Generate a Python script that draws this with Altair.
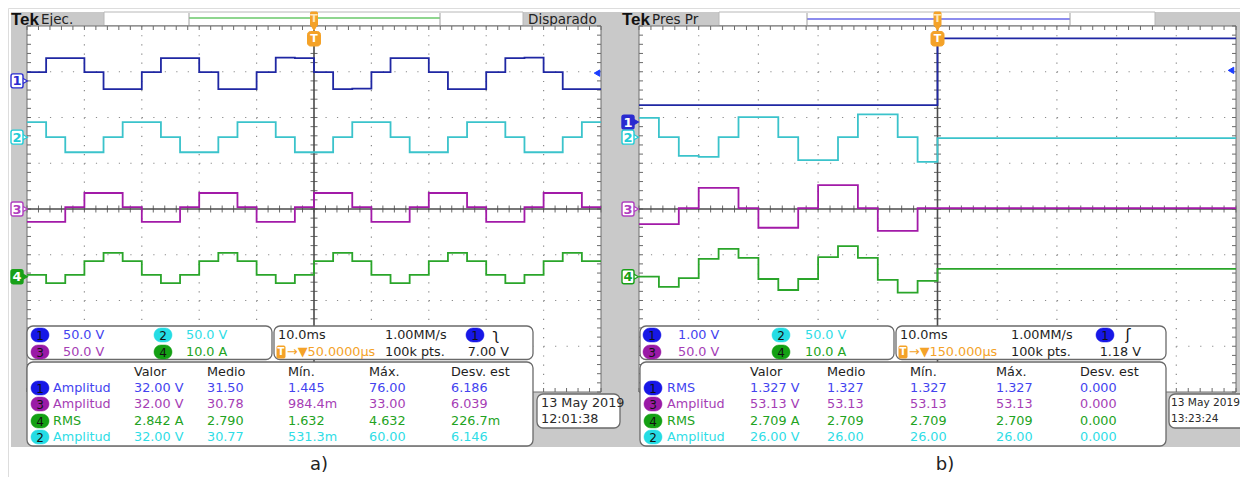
import altair as alt
import pandas as pd

# ================= values =================
# Trace step levels, in screen divisions above the graticule centre line,
# one value per 1/3 division (3.33 ms at 10 ms/div), left to right.
A_CH1 = [2.99, 3.30, 3.30, 2.99, 2.62, 2.62, 2.99, 3.30, 3.30, 2.99,
         2.62, 2.62, 2.99, 3.31, 3.30, 2.99, 2.62, 2.63, 2.99, 3.30,
         3.30, 2.99, 2.62, 2.62, 2.99, 3.30, 3.31, 2.99, 2.62, 2.62]
A_CH2 = [1.90, 1.57, 1.24, 1.24, 1.57, 1.90, 1.90, 1.57, 1.24, 1.24,
         1.57, 1.90, 1.90, 1.57, 1.24, 1.24, 1.57, 1.90, 1.90, 1.57,
         1.24, 1.24, 1.57, 1.90, 1.90, 1.57, 1.24, 1.24, 1.57, 1.90]
A_CH3 = [-0.28, -0.28, 0.04, 0.35, 0.35, 0.04, -0.28, -0.28, 0.04, 0.35,
         0.35, 0.04, -0.28, -0.28, 0.04, 0.35, 0.35, 0.04, -0.28, -0.28,
         0.04, 0.35, 0.35, 0.04, -0.28, -0.28, 0.04, 0.35, 0.35, 0.04]
A_CH4 = [-1.44, -1.62, -1.44, -1.14, -0.96, -1.14, -1.44, -1.62, -1.44, -1.14,
         -0.96, -1.14, -1.44, -1.62, -1.44, -1.14, -0.96, -1.14, -1.44, -1.62,
         -1.44, -1.14, -0.96, -1.14, -1.44, -1.62, -1.44, -1.14, -0.96, -1.14]

B_CH1 = [2.27, 2.27, 2.27, 2.27, 2.27, 2.27, 2.27, 2.27, 2.27, 2.27,
         2.27, 2.27, 2.27, 2.27, 2.27, 3.73, 3.73, 3.73, 3.73, 3.73,
         3.73, 3.73, 3.73, 3.73, 3.73, 3.73, 3.73, 3.73, 3.73, 3.73]
B_CH2 = [1.99, 1.57, 1.16, 1.14, 1.57, 2.01, 2.01, 1.57, 1.07, 1.07,
         1.57, 2.07, 2.07, 1.57, 1.03, 1.55, 1.55, 1.55, 1.55, 1.55,
         1.55, 1.55, 1.55, 1.55, 1.55, 1.55, 1.55, 1.55, 1.55, 1.55]
B_CH3 = [-0.33, -0.33, 0.02, 0.46, 0.46, 0.02, -0.41, -0.41, 0.02, 0.52,
         0.52, 0.02, -0.48, -0.48, 0.02, 0.02, 0.02, 0.02, 0.02, 0.02,
         0.02, 0.02, 0.02, 0.02, 0.02, 0.02, 0.02, 0.02, 0.02, 0.02]
B_CH4 = [-1.48, -1.70, -1.51, -1.09, -0.87, -1.07, -1.53, -1.77, -1.53, -1.05,
         -0.81, -1.07, -1.55, -1.83, -1.57, -1.31, -1.31, -1.31, -1.31, -1.31,
         -1.31, -1.31, -1.31, -1.31, -1.31, -1.31, -1.31, -1.31, -1.31, -1.31]

MS_PER_DIV = 10.0
STEPS_PER_DIV = 3

# channel ground-marker levels (divisions above centre)
A_MARK_LEVELS = {"1": 2.80, "2": 1.57, "3": 0.0, "4": -1.48}
B_MARK_LEVELS = {"1": 1.90, "2": 1.57, "3": 0.0, "4": -1.48}
A_MARK_FILLED = ["4"]
B_MARK_FILLED = ["1"]
A_TRIG_LEVEL = 2.97
B_TRIG_LEVEL = 3.03

A_MODE, B_MODE = "Ejec.", "Pres Pr"
A_STATUS = "Disparado"

A_SCALES = {"1": "50.0 V", "2": "50.0 V", "3": "50.0 V", "4": "10.0 A"}
B_SCALES = {"1": "1.00 V", "2": "50.0 V", "3": "50.0 V", "4": "10.0 A"}

A_TIMEBASE = ["10.0ms", "1.00MM/s", "100k pts.", "7.00 V"]
B_TIMEBASE = ["10.0ms", "1.00MM/s", "100k pts.", "1.18 V"]
A_TRIG_POS = "\u2192\u25bc50.0000\u00b5s"
B_TRIG_POS = "\u2192\u25bc150.000\u00b5s"
A_EDGE = "\u0285"
B_EDGE = "\u0283"

MEAS_HEADERS = ["Valor", "Medio", "Mín.", "Máx.", "Desv. est"]
MEAS_CHANNELS = ["1", "3", "4", "2"]
A_MEAS_NAMES = ["Amplitud", "Amplitud", "RMS", "Amplitud"]
A_MEAS_VALUES = [["32.00 V", "31.50", "1.445", "76.00", "6.186"],
                 ["32.00 V", "30.78", "984.4m", "33.00", "6.039"],
                 ["2.842 A", "2.790", "1.632", "4.632", "226.7m"],
                 ["32.00 V", "30.77", "531.3m", "60.00", "6.146"]]
B_MEAS_NAMES = ["RMS", "Amplitud", "RMS", "Amplitud"]
B_MEAS_VALUES = [["1.327 V", "1.327", "1.327", "1.327", "0.000"],
                 ["53.13 V", "53.13", "53.13", "53.13", "0.000"],
                 ["2.709 A", "2.709", "2.709", "2.709", "0.000"],
                 ["26.00 V", "26.00", "26.00", "26.00", "0.000"]]

A_DATE = ["13 May 2019", "12:01:38"]
B_DATE = ["13 May 2019", "13:23:24"]
CAPTIONS = ["a)", "b)"]

# ================= styles / layout =================
FONT = "DejaVu Sans"
TEK_FONT = "Liberation Sans"
ORANGE = "#f4a228"
GRAY_BG = "#c9c9c9"
C_TRACE = {"1": "#1f27a3", "2": "#3bc3cb", "3": "#a21aa8", "4": "#2aa52a"}
C_TEXT = {"1": "#4343ef", "2": "#2fdde6", "3": "#a53db5", "4": "#22a322"}
C_BADGE = {"1": "#1717e6", "2": "#25dce4", "3": "#9a1aa6", "4": "#14a014"}
C_MARK = {"1": "#2a2ad0", "2": "#22ccd6", "3": "#b040c0", "4": "#18a018"}

W, H = 1232, 469
X = alt.X("x:Q", scale=alt.Scale(domain=[8, 8 + W], nice=False, zero=False), axis=None)
Y = alt.Y("y:Q", scale=alt.Scale(domain=[8, 8 + H], nice=False, zero=False, reverse=True), axis=None)
X2 = alt.X2("x2:Q")
Y2 = alt.Y2("y2:Q")


def rects(rows, radius=0, sw=1.0):
    df = pd.DataFrame(rows, columns=["x", "x2", "y", "y2", "fill", "stroke"])
    return alt.Chart(df).mark_rect(cornerRadius=radius, strokeWidth=sw, clip=True).encode(
        x=X, x2=X2, y=Y, y2=Y2,
        fill=alt.Fill("fill:N", scale=None),
        stroke=alt.Stroke("stroke:N", scale=None))


def rules(rows, color, sw=1.0, dash=None):
    df = pd.DataFrame(rows, columns=["x", "x2", "y", "y2"])
    kw = dict(color=color, strokeWidth=sw)
    if dash:
        kw["strokeDash"] = dash
    return alt.Chart(df).mark_rule(**kw).encode(x=X, x2=X2, y=Y, y2=Y2)


def texts(rows, size=12.5, align="left", weight="normal", font=FONT):
    df = pd.DataFrame(rows, columns=["x", "y", "text", "color"])
    return alt.Chart(df).mark_text(align=align, baseline="middle", font=font, fontSize=size,
                                   fontWeight=weight, clip=True).encode(
        x=X, y=Y, text="text:N", color=alt.Color("color:N", scale=None))


def points(rows, shape, size, sw=1.0):
    df = pd.DataFrame(rows, columns=["x", "y", "fill", "stroke"])
    return alt.Chart(df).mark_point(shape=shape, size=size, filled=True, strokeWidth=sw, opacity=1).encode(
        x=X, y=Y, fill=alt.Fill("fill:N", scale=None), stroke=alt.Stroke("stroke:N", scale=None))


def trace(levels, P, color):
    gx0, gx1, gy0, gy1 = P["grat"]
    dw = (gx1 - gx0) / 10
    dh = (gy1 - gy0) / 8
    yc = (gy0 + gy1) / 2
    t0 = -5 * MS_PER_DIV
    rows = []
    for k, lv in enumerate(levels + [levels[-1]]):
        t = t0 + k * MS_PER_DIV / STEPS_PER_DIV
        rows.append({"t": t, "level": lv})
    df = pd.DataFrame(rows)
    df["x"] = gx0 + (df["t"] - t0) / MS_PER_DIV * dw
    df["y"] = yc - df["level"] * dh
    return alt.Chart(df).mark_line(interpolate="step-after", color=color, strokeWidth=1.8).encode(x=X, y=Y)


def panel(P, D):
    gx0, gx1, gy0, gy1 = P["grat"]
    dw = (gx1 - gx0) / 10
    dh = (gy1 - gy0) / 8
    xc = (gx0 + gx1) / 2
    yc = (gy0 + gy1) / 2
    L = []
    # header
    hx0, hx1 = P["hdr_box"]
    L.append(rects([(hx0, hx1, 12, 25.5, "white", "#b8b8b8")]))
    lx0, lx1 = P["hdr_line"]
    L.append(rules([(lx0, lx1, P["hdr_line_y"], P["hdr_line_y"])], P["hdr_line_color"], 2.2))
    L.append(rules([(lx0, lx0, 13, 25), (lx1, lx1, 13, 25)], "#a0a0a0", 1))
    L.append(texts([(P["tek_x"], 20, "Tek", "#111111")], size=17, weight="bold", font=TEK_FONT))
    L.append(texts([(P["tek_x"] + 30, 19.5, D["mode"], "#222222")], size=13.5))
    if D.get("status"):
        L.append(texts([(P["status_x"], 19.5, D["status"], "#222222")], size=13.5))
    # graticule
    L.append(rects([(gx0, gx1, gy0, gy1, "white", "#6e6e6e")]))
    vr = [(gx0 + i * dw, gx0 + i * dw, gy0, gy1) for i in range(1, 10) if i != 5]
    hr = [(gx0, gx1, gy0 + j * dh, gy0 + j * dh) for j in range(1, 8) if j != 4]
    L.append(rules(vr, "#8a8a8a", 1.2, [1.2, dh / 5 - 1.2]))
    L.append(rules(hr, "#8a8a8a", 1.2, [1.2, dw / 5 - 1.2]))
    ticks = []
    for i in range(51):
        x = gx0 + i * dw / 5
        ticks += [(x, x, yc - 3.5, yc + 3.5), (x, x, gy0, gy0 + 4), (x, x, gy1 - 4, gy1)]
    for j in range(41):
        y = gy0 + j * dh / 5
        ticks += [(xc - 3.5, xc + 3.5, y, y), (gx0, gx0 + 4, y, y), (gx1 - 4, gx1, y, y)]
    L.append(rules(ticks, "#6a6a6a", 1))
    L.append(rules([(gx0, gx1, yc, yc), (xc, xc, gy0, gy1)], "#4a4a4a", 1.6))
    # traces
    for ch in ["2", "1", "4", "3"]:
        L.append(trace(D["traces"][ch], P, C_TRACE[ch]))
    # channel markers on the left
    mx = P["marker_x"]
    tri, box, lab_w = [], [], []
    for ch, lv in D["marks"].items():
        y = yc - lv * dh
        filled = ch in D["marks_filled"]
        fill = C_MARK[ch] if filled else "white"
        tri.append((mx + 13.5, y, fill, C_MARK[ch]))
        box.append((mx, mx + 12, y - 7, y + 7, fill, C_MARK[ch]))
        lab_w.append((mx + 6, y + 0.5, ch, "white" if filled else C_MARK[ch]))
    L.append(points(tri, "triangle-right", 45, 1.2))
    L.append(rects(box, radius=2, sw=1.4))
    L.append(texts(lab_w, size=13, align="center", weight="bold"))
    # trigger level arrow (right)
    ax, _ = P["arrow"]
    L.append(points([(ax, yc - D["trig_level"] * dh, "#1a3cff", "#1a3cff")], "triangle-left", 40))
    # trigger position marker
    L.append(rects([(xc - 3.5, xc + 3.5, 12, 26, ORANGE, ORANGE)], radius=1))
    L.append(points([(xc, 28, ORANGE, ORANGE)], "triangle-down", 30))
    L.append(rects([(xc - 6.5, xc + 6.5, 31.5, 46, ORANGE, ORANGE)], radius=3))
    L.append(texts([(xc, 39, "T", "white"), (xc, 19, "T", "#fde6b8")], size=11, align="center", weight="bold"))
    # info boxes
    b1, b2, bm, bd = P["box1"], P["box2"], P["meas"], P["date"]
    L.append(rects([(b1[0], b1[1], 326, 359.5, "white", "#6a6a6a"),
                    (b2[0], b2[1], 326, 359.5, "white", "#6a6a6a"),
                    (bm[0], bm[1], 362, 446, "white", "#6a6a6a"),
                    (bd[0], bd[1], 394, 428, "white", "#6a6a6a")], radius=6, sw=1.3))
    # channel scale box
    badges, btxt, stxt = [], [], []
    for ch, (bx, tx, y) in zip(["1", "2", "3", "4"],
                               [(P["s_badge_x"][0], P["s_text_x"][0], 335),
                                (P["s_badge_x"][1], P["s_text_x"][1], 335),
                                (P["s_badge_x"][0], P["s_text_x"][0], 352),
                                (P["s_badge_x"][1], P["s_text_x"][1], 352)]):
        badges.append((bx - 9, bx + 9, y - 7, y + 7, C_BADGE[ch], C_BADGE[ch]))
        btxt.append((bx, y + 0.5, ch, "#111111"))
        stxt.append((tx, y, D["scales"][ch], C_TEXT[ch]))
    # timebase box
    tb = P["tb_x"]
    badges.append((tb[2] - 9, tb[2] + 9, 328, 342, C_BADGE["1"], C_BADGE["1"]))
    btxt.append((tb[2], 335.5, "1", "#111111"))
    dark = "#1e1e1e"
    stxt += [(tb[0], 335, D["tb"][0], dark), (tb[1], 335, D["tb"][1], dark),
             (tb[1], 352, D["tb"][2], dark), (tb[0] + 9, 352, D["trig_pos"], ORANGE)]
    # measurement table
    for r, ch in enumerate(MEAS_CHANNELS):
        y = [388, 404, 421, 437][r]
        bx = P["m_badge_x"]
        badges.append((bx - 9, bx + 9, y - 7, y + 7, C_BADGE[ch], C_BADGE[ch]))
        btxt.append((bx, y + 0.5, ch, "#111111"))
        stxt.append((P["m_name_x"], y, D["meas_names"][r], C_TEXT[ch]))
        for c, val in enumerate(D["meas_values"][r]):
            stxt.append((P["cols"][c], y, val, C_TEXT[ch]))
    for c, hname in enumerate(MEAS_HEADERS):
        stxt.append((P["cols"][c], 372, hname, dark))
    L.append(rects(badges, radius=7, sw=0.5))
    L.append(rects([(tb[0] - 1, tb[0] + 7, 346, 358, ORANGE, ORANGE)], radius=1))
    L.append(texts(btxt, size=12, align="center"))
    L.append(texts([(tb[0] + 3, 352, "T", "white")], size=10, align="center", weight="bold"))
    L.append(texts(stxt, size=12.8))
    L.append(texts([(P["date_x"], 403, D["date"][0], "#2a2a2a"),
                    (P["date_x"], 419, D["date"][1], "#2a2a2a")], size=P["date_size"]))
    L.append(texts([(tb[3], 335, D["edge"], "#111111")], size=15, align="center"))
    L.append(texts([(tb[4], 352, D["tb"][3], dark)], size=12.8, align="right"))
    # caption
    L.append(texts([(P["caption_x"], 465, D["caption"], "#222222")], size=18, align="center"))
    return L


P_A = dict(grat=(27, 601, 26, 392), hdr_box=(104, 523), hdr_line=(189, 440), hdr_line_y=18,
           hdr_line_color="#8fd68f", tek_x=11, marker_x=11, status_x=528,
           box1=(27, 272), box2=(274, 533), meas=(27, 533), date=(537, 620),
           s_badge_x=(40, 163), s_text_x=(63, 186), tb_x=(278, 385, 475, 496, 509),
           cols=(134, 207, 288, 369, 451), m_badge_x=40, m_name_x=53, date_x=541, date_size=12.8,
           arrow=(597, 0), caption_x=319)
P_B = dict(grat=(639, 1236, 26, 392), hdr_box=(719, 1155), hdr_line=(807, 1070), hdr_line_y=19,
           hdr_line_color="#8c8cee", tek_x=622, marker_x=622,
           box1=(640, 894), box2=(896, 1166), meas=(640, 1166), date=(1169, 1262),
           s_badge_x=(652, 781), s_text_x=(678, 805), tb_x=(900, 1011, 1105, 1128, 1141),
           cols=(750, 827, 910, 996, 1080), m_badge_x=653, m_name_x=667, date_x=1171, date_size=10.6,
           arrow=(1231, 0), caption_x=945)

D_A = dict(mode=A_MODE, status=A_STATUS,
           traces={"1": A_CH1, "2": A_CH2, "3": A_CH3, "4": A_CH4},
           marks=A_MARK_LEVELS, marks_filled=A_MARK_FILLED, trig_level=A_TRIG_LEVEL,
           scales=A_SCALES, tb=A_TIMEBASE, trig_pos=A_TRIG_POS, edge=A_EDGE,
           meas_names=A_MEAS_NAMES, meas_values=A_MEAS_VALUES, date=A_DATE, caption=CAPTIONS[0])
D_B = dict(mode=B_MODE,
           traces={"1": B_CH1, "2": B_CH2, "3": B_CH3, "4": B_CH4},
           marks=B_MARK_LEVELS, marks_filled=B_MARK_FILLED, trig_level=B_TRIG_LEVEL,
           scales=B_SCALES, tb=B_TIMEBASE, trig_pos=B_TRIG_POS, edge=B_EDGE,
           meas_names=B_MEAS_NAMES, meas_values=B_MEAS_VALUES, date=B_DATE, caption=CAPTIONS[1])

layers = [rects([(11, 1250, 12, 447, GRAY_BG, GRAY_BG)], sw=0)]
layers += panel(P_A, D_A)
layers += panel(P_B, D_B)

chart = alt.layer(*layers).properties(
    width=W, height=H, padding=0,
    autosize=alt.AutoSizeParams(type="none"),
).configure_view(stroke=None).configure(background="white")

chart.save("out.html", embed_options={"renderer": "svg", "actions": False})
